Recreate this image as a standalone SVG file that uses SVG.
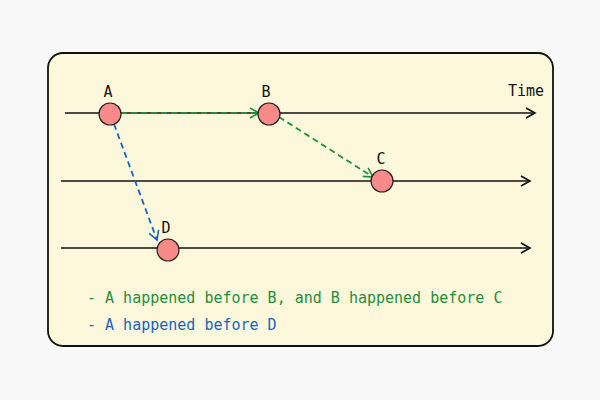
<svg xmlns="http://www.w3.org/2000/svg" width="600" height="400" viewBox="0 0 600 400">
<style>
.t{font-family:"DejaVu Sans Mono","Liberation Mono",monospace;font-size:15px;fill:#111}
.n{fill:#f88a8a;stroke:#222;stroke-width:1.2}
.tl{stroke:#111;stroke-width:1.6;fill:none}
.g{stroke:#1f8f3a;stroke-width:1.8;stroke-dasharray:6 4;fill:none}
.b{stroke:#1565c0;stroke-width:1.8;stroke-dasharray:6 4;fill:none}
</style>
<defs>
<marker id="ak" markerWidth="12" markerHeight="12" refX="10" refY="6" orient="auto" markerUnits="userSpaceOnUse"><path d="M1,1 L10,6 L1,11" fill="none" stroke="#111" stroke-width="1.6"/></marker>
<marker id="ag" markerWidth="12" markerHeight="12" refX="10" refY="6" orient="auto" markerUnits="userSpaceOnUse"><path d="M1,1 L10,6 L1,11" fill="none" stroke="#1f8f3a" stroke-width="1.6"/></marker>
<marker id="ab" markerWidth="12" markerHeight="12" refX="10" refY="6" orient="auto" markerUnits="userSpaceOnUse"><path d="M1,1 L10,6 L1,11" fill="none" stroke="#1565c0" stroke-width="1.6"/></marker>
</defs>
<rect width="600" height="400" fill="#f8f8f8"/>
<rect x="48" y="53" width="505" height="293" rx="15" fill="#fdf8dc" stroke="#111" stroke-width="1.8"/>
<g id="timelines">
<line class="tl" x1="65" y1="113" x2="535" y2="113" marker-end="url(#ak)"/>
<line class="tl" x1="61" y1="181" x2="530" y2="181" marker-end="url(#ak)"/>
<line class="tl" x1="61" y1="248" x2="530" y2="248" marker-end="url(#ak)"/>
<text class="t" x="508" y="96">Time</text>
</g>
<g id="connectors">
<line class="g" x1="121" y1="113" x2="259" y2="113" marker-end="url(#ag)"/>
<line class="g" x1="279" y1="117" x2="373" y2="177" marker-end="url(#ag)"/>
<line class="b" x1="114" y1="124" x2="157" y2="240" marker-end="url(#ab)"/>
</g>
<g id="A"><circle class="n" cx="110" cy="114" r="11"/><text class="t" x="108" y="97" text-anchor="middle">A</text></g>
<g id="B"><circle class="n" cx="269" cy="114" r="11"/><text class="t" x="266" y="97" text-anchor="middle">B</text></g>
<g id="C"><circle class="n" cx="382" cy="181" r="11"/><text class="t" x="381" y="164" text-anchor="middle">C</text></g>
<g id="D"><circle class="n" cx="168" cy="250" r="11"/><text class="t" x="166" y="233" text-anchor="middle">D</text></g>
<g id="notes">
<text class="t" x="87" y="303" style="fill:#1f8f3a">- A happened before B, and B happened before C</text>
<text class="t" x="87" y="330" style="fill:#1565c0">- A happened before D</text>
</g>
</svg>
